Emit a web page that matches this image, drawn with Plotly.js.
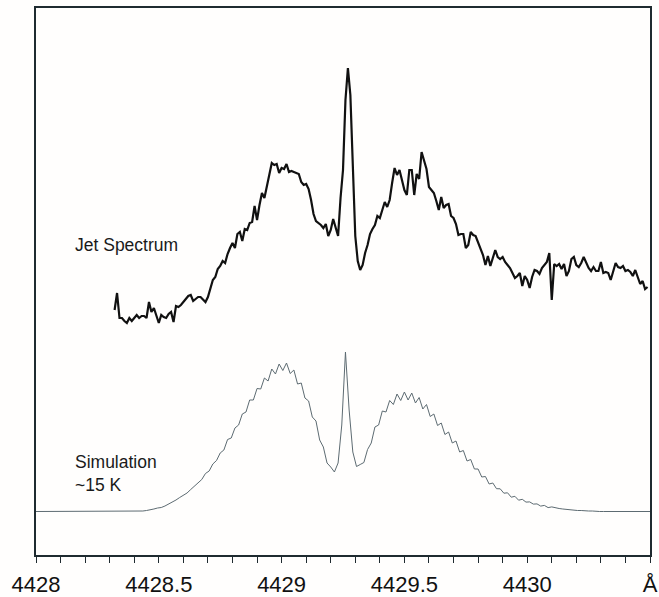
<!DOCTYPE html>
<html>
<head>
<meta charset="utf-8">
<script src="https://cdn.plot.ly/plotly-3.0.1.min.js"></script>
<style>html,body{margin:0;padding:0;background:#fffefd;}</style>
</head>
<body>
<div id="chart" style="width:659px;height:597px;"></div>
<script>
// Wavelength axis (Å)
const xTickVals = [4428, 4428.5, 4429, 4429.5, 4430, 4430.5];
const xTickText = ["4428", "4428.5", "4429", "4429.5", "4430", "Å"];

// Jet spectrum: starts at 4428.32 Å, sampled every 0.01 Å (arbitrary intensity units)
const jetStart = 4428.32;
const jetStep = 0.01;
const jetIntensity = [
  245,262,237,237,234,232,237,234,237,240,
  237,239,239,237,253,243,247,239,232,240,
  238,237,241,243,233,249,248,250,253,256,
  259,260,254,256,258,258,255,253,258,267,
  275,278,286,289,294,292,301,307,312,307,
  321,323,314,326,325,332,333,349,335,350,
  362,357,368,380,392,390,391,382,387,386,
  391,383,384,383,382,381,373,370,371,366,
  355,341,334,332,330,327,331,319,325,336,
  327,319,357,385,455,487,460,385,319,294,
  285,290,302,310,321,326,330,339,337,345,
  353,348,355,372,387,380,385,375,365,360,
  385,385,360,381,376,403,393,386,368,365,
  362,354,345,358,347,350,351,339,337,331,
  320,321,321,307,310,323,320,319,313,307,
  300,290,299,289,298,305,298,296,298,293,
  290,287,282,277,279,282,269,279,275,267,
  278,285,284,281,287,290,293,302,255,291,
  289,291,286,291,279,284,296,298,290,288,
  292,298,293,287,284,288,284,284,293,282,
  283,282,275,285,292,288,287,289,284,285,
  283,279,285,278,271,274,266,268
];

// Simulated spectrum (~15 K): starts at 4428.00 Å, sampled every 0.015 Å
const simStart = 4428.0;
const simStep = 0.015;
const simIntensity = [
  43.5,43.5,43.5,43.5,43.5,43.5,43.5,43.5,43.5,43.5,
  43.5,43.5,43.5,43.5,43.5,43.5,43.5,43.5,43.5,43.5,
  43.5,43.5,43.5,43.5,43.5,43.5,43.5,43.5,44,44,
  44.5,45,46,47,47.5,49,51,52.5,55,57.5,
  60,62,65.5,69,72.5,75.5,81.5,84,91,94.5,
  102,105,115.5,117,127,130,141,143,155,155,
  166.5,166,177,174,186,181,191,184.5,192,181.5,
  185,171,172,157,154,138,134,115,108,92,
  88,83,92,130,203,145,103,88.5,90.5,92.5,
  105.5,112,128,130,144,143,154.5,150.5,161,154.5,
  163,155,162,152,157.5,146,150.5,138.5,141,129.5,
  132,120.5,123,112,114,103,104.5,94,95.5,86,
  86,78,78.5,71,72,66.3,66.2,61.8,62.2,57.8,
  58.7,54.8,55.7,52.9,53.1,50.9,51.1,48.9,49.6,47.4,
  48.1,47,46.5,46,45.5,45,45,44.5,44.5,44,
  44,44,43.5,43.5,43.5,43.5,43.5,43.5,43.5,43.5,
  43.5,43.5,43.5,43.5,43.5,43.5,43.5,43.5
];

const frameColor = "#1f2b30";

const traces = [
  {
    type: "scatter", mode: "lines",
    x0: simStart, dx: simStep, y: simIntensity,
    line: {color: "#5d6b72", width: 1},
    hoverinfo: "skip", showlegend: false
  },
  {
    type: "scatter", mode: "lines",
    x0: jetStart, dx: jetStep, y: jetIntensity,
    line: {color: "#111111", width: 2.2},
    hoverinfo: "skip", showlegend: false
  }
];

const layout = {
  width: 659, height: 597,
  margin: {l: 36, r: 9, t: 8, b: 42},
  paper_bgcolor: "#fffefd",
  plot_bgcolor: "#fffefd",
  font: {family: "Liberation Sans, Arial, sans-serif", color: "#111111"},
  showlegend: false,
  xaxis: {
    range: [4428, 4430.5],
    tickmode: "array", tickvals: xTickVals, ticktext: xTickText,
    ticks: "outside", ticklen: 6, tickwidth: 1, tickcolor: frameColor,
    ticklabelstandoff: 3,
    minor: {tickmode: "linear", tick0: 4428, dtick: 0.1, ticks: "outside", ticklen: 6, tickwidth: 1, tickcolor: frameColor, showgrid: false},
    showgrid: false, zeroline: false,
    showline: true, mirror: true, linecolor: frameColor, linewidth: 2,
    tickfont: {size: 22, family: "Liberation Sans, Arial, sans-serif", color: "#111111"},
    fixedrange: true
  },
  yaxis: {
    range: [0, 547],
    showticklabels: false, ticks: "",
    showgrid: false, zeroline: false,
    showline: true, mirror: true, linecolor: frameColor, linewidth: 2,
    fixedrange: true
  },
  annotations: [
    {x: 4428.15, y: 310, xref: "x", yref: "y", xanchor: "left", yanchor: "middle",
     text: "Jet Spectrum", showarrow: false, align: "left",
     font: {size: 17.5, color: "#1a1a1a"}},
    {x: 4428.15, y: 82, xref: "x", yref: "y", xanchor: "left", yanchor: "middle",
     text: "Simulation<br>~15 K", showarrow: false, align: "left",
     font: {size: 17.5, color: "#1a1a1a"}}
  ]
};

Plotly.newPlot("chart", traces, layout, {displayModeBar: false, staticPlot: true});
</script>
</body>
</html>
